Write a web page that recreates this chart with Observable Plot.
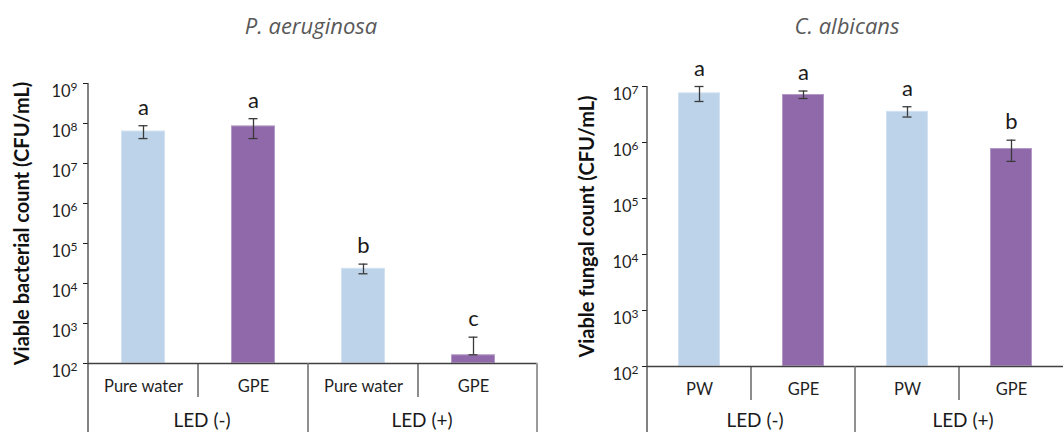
<!DOCTYPE html>
<html>
<head>
<meta charset="utf-8">
<script src="https://cdn.jsdelivr.net/npm/d3@7"></script>
<script src="https://cdn.jsdelivr.net/npm/@observablehq/plot@0.6"></script>
<style>
  html, body { margin: 0; padding: 0; background: #fff; }
  #root { position: relative; width: 1063px; height: 432px; overflow: hidden; background: #fff; }
  .panel { position: absolute; top: 0; }
  .title { position: absolute; top: 10px; font-family: "Open Sans", sans-serif; font-style: italic; font-size: 22px; line-height: 30px; color: #595959; text-align: center; width: 300px; }
</style>
</head>
<body>
<div id="root">
  <div id="left" class="panel" style="left:0px;width:540px"></div>
  <div id="right" class="panel" style="left:530px;width:533px"></div>
  <div class="title" style="left:161px">P. aeruginosa</div>
  <div class="title" style="left:697px">C. albicans</div>
</div>
<script>
// ---- data ----
const groups = ["LED (-)", "LED (-)", "LED (+)", "LED (+)"];
const groupNames = ["LED (-)", "LED (+)"];

const paTreat = ["Pure water", "GPE", "Pure water", "GPE"];
const paMean = [6.5e7, 8.7e7, 2.4e4, 165];
const paSD = [2.3e7, 4.5e7, 6.5e3, 290];
const paLetter = ["a", "a", "b", "c"];
const paTicks = [1e2, 1e3, 1e4, 1e5, 1e6, 1e7, 1e8, 1e9];

const caTreat = ["PW", "GPE", "PW", "GPE"];
const caMean = [7.7e6, 7.2e6, 3.6e6, 7.8e5];
const caSD = [2.3e6, 1.1e6, 0.75e6, 3.2e5];
const caLetter = ["a", "a", "a", "b"];
const caTicks = [1e2, 1e3, 1e4, 1e5, 1e6, 1e7];

const treatColors = {"Pure water": "#BDD3EA", "PW": "#BDD3EA", "GPE": "#9069AA"};
const treatStroke = {"Pure water": "#D3E2F2", "PW": "#D3E2F2", "GPE": "#B39AC7"};

const supChars = ["⁰","¹","²","³","⁴","⁵","⁶","⁷","⁸","⁹"];

function panel(cfg) {
  const {treat, mean, sd, letter, ticks, width, height, marginLeft, marginTop, marginBottom, marginRight, xRange, tickPadding, yLabel, yLabelDx, endLine} = cfg;
  const ids = treat.map((_, i) => i);
  const data = ids.map(i => ({
    id: i,
    treat: treat[i],
    group: groups[i],
    mean: mean[i],
    lo: mean[i] - sd[i] > 0 ? mean[i] - sd[i] : mean[i],
    hi: mean[i] + sd[i],
    letter: letter[i]
  }));
  const yMin = ticks[0], yMax = ticks[ticks.length - 1];
  const plot = Plot.plot({
    width, height, marginLeft, marginTop, marginBottom, marginRight,
    style: {fontFamily: "Lato, sans-serif", fontSize: "16.5px", color: "#1f1f1f", background: "transparent", overflow: "visible"},
    x: {domain: ids, range: xRange, paddingInner: 0.6, paddingOuter: 0.3, tickSize: 0, tickPadding: 16.5, tickFormat: i => treat[i], label: null},
    y: {type: "log", domain: [yMin, yMax], ticks, tickSize: 5, tickPadding, label: null,
        tickFormat: d => "10" + supChars[Math.round(Math.log10(d))]},
    color: {domain: Object.keys(treatColors), range: Object.values(treatColors)},
    marks: [
      Plot.barY(data, {x: "id", y1: yMin, y2: "mean", fill: "treat", stroke: d => treatStroke[d.treat], strokeWidth: 1, inset: 0.5}),
      Plot.ruleX(data, {x: "id", y1: "lo", y2: "hi", stroke: "#3a3a3a", strokeWidth: 1.3}),
      Plot.tickY(data, {x: "id", y: "hi", stroke: "#3a3a3a", strokeWidth: 1.3, insetLeft: cfg.capInset, insetRight: cfg.capInset}),
      Plot.tickY(data, {x: "id", y: "lo", stroke: "#3a3a3a", strokeWidth: 1.3, insetLeft: cfg.capInset, insetRight: cfg.capInset}),
      Plot.text(data, {x: "id", y: "hi", text: "letter", dy: -18, fontSize: 22, fill: "#1a1a1a"}),
      Plot.ruleY([yMin], {stroke: "#404040", strokeWidth: 1.3}),
      Plot.text([yLabel], {frameAnchor: "left", text: d => d, rotate: -90, dx: yLabelDx, textAnchor: "middle", fontWeight: "bold", fontSize: 20, fill: "#111"})
    ]
  });

  const svg = d3.select(plot.tagName.toLowerCase() === "svg" ? plot : plot.querySelector("svg"));
  // superscript tick labels
  svg.selectAll("text").each(function () {
    const t = this.textContent;
    if (t.length === 3 && t.startsWith("10") && supChars.includes(t[2])) {
      const exp = supChars.indexOf(t[2]);
      const el = d3.select(this);
      el.text("").attr("dy", "0.5em").attr("font-size", 16.5);
      el.append("tspan").text("10");
      el.append("tspan").attr("dy", -6).attr("font-size", 12).text(String(exp));
    }
  });

  // group separators and labels, from the plot's own scales
  const sx = plot.scale("x");
  const sy = plot.scale("y");
  const bw = sx.bandwidth;
  const center = i => sx.apply(i) + bw / 2;
  const y0 = sy.apply(yMin);
  const yTop = sy.apply(yMax);
  const g = svg.append("g");
  g.append("line").attr("x1", marginLeft).attr("x2", marginLeft).attr("y1", yTop).attr("y2", height)
    .attr("stroke", "#404040").attr("stroke-width", 1.3);
  for (let i = 0; i < ids.length - 1; i++) {
    const xs = (center(i) + center(i + 1)) / 2;
    const major = groups[i] !== groups[i + 1];
    g.append("line").attr("x1", xs).attr("x2", xs).attr("y1", y0).attr("y2", major ? height : y0 + 34)
      .attr("stroke", major ? "#6b6b6b" : "#404040").attr("stroke-width", major ? 1.5 : 1.2);
  }
  groupNames.forEach(name => {
    const members = ids.filter(i => groups[i] === name);
    const cx = (center(members[0]) + center(members[members.length - 1])) / 2;
    g.append("text").attr("x", cx + 4).attr("y", height - 5).attr("text-anchor", "middle")
      .attr("font-size", 19).attr("fill", "#1a1a1a").text(name);
  });
  if (endLine) {
    const xe = width - marginRight;
    g.append("line").attr("x1", xe).attr("x2", xe).attr("y1", y0).attr("y2", height)
      .attr("stroke", "#9a9a9a").attr("stroke-width", 2);
  }
  return plot;
}

document.getElementById("left").appendChild(panel({
  treat: paTreat, mean: paMean, sd: paSD, letter: paLetter, ticks: paTicks,
  width: 540, height: 432, marginLeft: 88, marginTop: 83, marginBottom: 69, marginRight: 3,
  xRange: [88, 528], tickPadding: 6, capInset: 17.5,
  yLabel: "Viable bacterial count (CFU/mL)", yLabelDx: -66, endLine: true
}));

document.getElementById("right").appendChild(panel({
  treat: caTreat, mean: caMean, sd: caSD, letter: caLetter, ticks: caTicks,
  width: 533, height: 432, marginLeft: 117, marginTop: 86, marginBottom: 66, marginRight: 0,
  xRange: [117, 533], tickPadding: 4, capInset: 16.5,
  yLabel: "Viable fungal count (CFU/mL)", yLabelDx: -60, endLine: false
}));
</script>
</body>
</html>
